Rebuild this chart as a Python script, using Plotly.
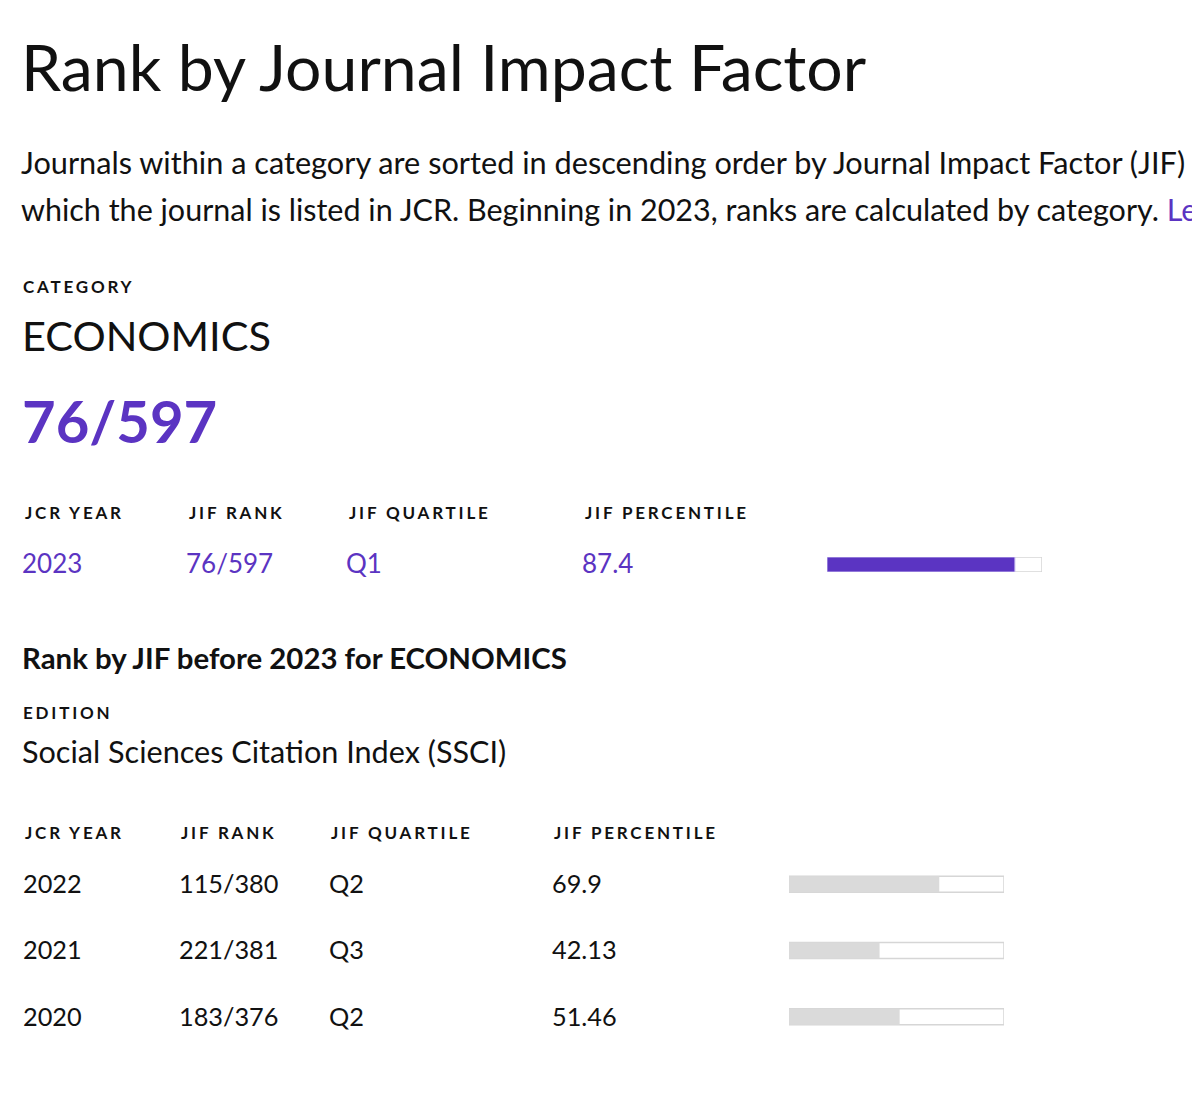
import plotly.graph_objects as go

# ---------------- data ----------------
page_title = "Rank by Journal Impact Factor"
intro_line_1 = "Journals within a category are sorted in descending order by Journal Impact Factor (JIF)"
intro_line_2 = "which the journal is listed in JCR. Beginning in 2023, ranks are calculated by category. "
learn_more = "Learn more"
category_label = "CATEGORY"
category_name = "ECONOMICS"
headline_rank = "76/597"
column_headers = ["JCR YEAR", "JIF RANK", "JIF QUARTILE", "JIF PERCENTILE"]

current_year = ["2023"]
current_rank = ["76/597"]
current_quartile = ["Q1"]
current_percentile = [87.4]

history_title = "Rank by JIF before 2023 for ECONOMICS"
edition_label = "EDITION"
edition_name = "Social Sciences Citation Index (SSCI)"
history_years = ["2022", "2021", "2020"]
history_ranks = ["115/380", "221/381", "183/376"]
history_quartiles = ["Q2", "Q3", "Q2"]
history_percentiles = [69.9, 42.13, 51.46]

# ---------------- styles ----------------
OFF = 8                      # default page margin around the plot
W, H = 1200 - OFF, 1106 - OFF
PURPLE = "#5b34c2"
BLACK = "#111111"
BODY = "Lato"


def px(x):
    return (x - OFF) / W


def py(y):
    return 1 - (y - OFF) / H


annotations = []


def text(s, x, y, size, color=BLACK, weight="normal", spacing=None):
    if spacing is not None:
        s = f"<span style='letter-spacing:{spacing}px'>{s}</span>"
    annotations.append(dict(
        text=s, x=px(x), y=py(y), xref="paper", yref="paper",
        xanchor="left", yanchor="middle", showarrow=False,
        font=dict(size=size, color=color, family=BODY, weight=weight),
    ))


def label(s, x, y):
    text(s, x, y, 17, color=BLACK, weight="bold", spacing=2.8)


text(page_title, 19, 66, 64.3)
text(intro_line_1, 19, 162, 30.7)
text(intro_line_2 + f"<span style='color:{PURPLE}'>{learn_more}</span>", 19, 209, 30.5)
label(category_label, 21, 287)
text(category_name, 20, 335, 41.5)
text(headline_rank, 20, 420, 58, color=PURPLE, weight="bold")

col_top = [23, 187, 347, 583]
for h, x in zip(column_headers, col_top):
    label(h, x, 512)
row_vals = [current_year[0], current_rank[0], current_quartile[0], f"{current_percentile[0]}"]
for v, x in zip(row_vals, col_top):
    text(v, x - 3, 563, 26, color=PURPLE)

text(history_title, 20, 657, 29.4, weight="bold")
label(edition_label, 21, 712)
text(edition_name, 20, 751, 30.6)

col_hist = [23, 179, 329, 552]
for h, x in zip(column_headers, col_hist):
    label(h, x, 832)
row_y = [883, 949, 1016]
for i, yy in enumerate(row_y):
    vals = [history_years[i], history_ranks[i], history_quartiles[i], f"{history_percentiles[i]}"]
    for v, x in zip(vals, col_hist):
        text(v, x - 2, yy, 25.3)

fig = go.Figure()

# current percentile bar (x / y)
fig.add_trace(go.Bar(x=[100], y=current_year, orientation="h", width=1,
                     marker=dict(color="white", line=dict(color="#d6d6d6", width=1.5)),
                     xaxis="x", yaxis="y", hoverinfo="skip", showlegend=False))
fig.add_trace(go.Bar(x=current_percentile, y=current_year, orientation="h", width=1,
                     marker=dict(color=PURPLE, line=dict(color="#c9bdf0", width=1)),
                     xaxis="x", yaxis="y", showlegend=False))

# history percentile bars (x2 / y2)
fig.add_trace(go.Bar(x=[100] * len(history_years), y=history_years, orientation="h", width=0.24,
                     marker=dict(color="white", line=dict(color="#d6d6d6", width=1.5)),
                     xaxis="x2", yaxis="y2", hoverinfo="skip", showlegend=False))
fig.add_trace(go.Bar(x=history_percentiles, y=history_years, orientation="h", width=0.24,
                     marker=dict(color="#dadada", line=dict(width=0)),
                     xaxis="x2", yaxis="y2", showlegend=False))

hidden = dict(visible=False, showgrid=False, zeroline=False, fixedrange=True)
fig.update_layout(
    width=W, height=H, margin=dict(l=0, r=0, t=0, b=0),
    paper_bgcolor="white", plot_bgcolor="rgba(0,0,0,0)",
    barmode="overlay", showlegend=False,
    xaxis=dict(domain=[px(827), px(1042)], range=[0, 100], anchor="y", **hidden),
    yaxis=dict(domain=[py(572), py(557)], type="category", range=[-0.5, 0.5], anchor="x", **hidden),
    xaxis2=dict(domain=[px(789), px(1004)], range=[0, 100], anchor="y2", **hidden),
    yaxis2=dict(domain=[py(1050), py(851)], type="category", categoryorder="array",
                categoryarray=history_years, range=[2.5, -0.5], anchor="x2", **hidden),
    annotations=annotations,
)

fig.write_html("out.html")
